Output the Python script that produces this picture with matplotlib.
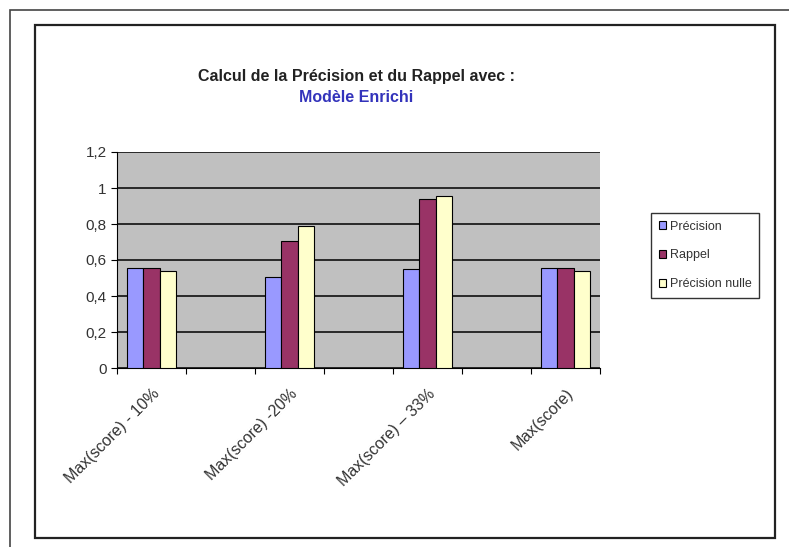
import matplotlib.pyplot as plt
import numpy as np
from matplotlib.patches import Rectangle

plt.rcParams['font.family'] = ['Liberation Sans', 'DejaVu Sans']

# données
categories = ["Max(score) - 10%", "", "Max(score) -20%", "", "Max(score) \u2013 33%", "", "Max(score)"]
precision = [0.556, np.nan, 0.505, np.nan, 0.55, np.nan, 0.556]
rappel = [0.556, np.nan, 0.708, np.nan, 0.941, np.nan, 0.556]
precision_nulle = [0.538, np.nan, 0.79, np.nan, 0.954, np.nan, 0.538]
series = [("Précision", precision, "#9999ff"),
          ("Rappel", rappel, "#993366"),
          ("Précision nulle", precision_nulle, "#ffffcc")]

fig = plt.figure(figsize=(7.89, 5.47), dpi=100)

# cadres
fig.patches.append(Rectangle((10/789, -0.1), 1.2, 1 - 10/547 + 0.1, transform=fig.transFigure,
                             fill=False, edgecolor="#444444", linewidth=1.2))
fig.patches.append(Rectangle((35/789, 1 - 538/547), (775 - 35)/789, (538 - 25)/547,
                             transform=fig.transFigure, fill=False, edgecolor="#222222", linewidth=1.6))

ax = fig.add_axes([117/789, 1 - 368/547, (600 - 117)/789, (368 - 152)/547])
ax.set_facecolor("#c0c0c0")

x = np.arange(len(categories))
w = 0.232
for i, (name, vals, col) in enumerate(series):
    ax.bar(x + (i - 1) * w, vals, w, color=col, edgecolor="black", linewidth=0.8, label=name, zorder=3)

ax.set_xlim(-0.5, len(categories) - 0.5)
ax.set_ylim(0, 1.2)
yt = np.arange(0, 1.21, 0.2)
ax.set_yticks(yt)
ax.set_yticklabels(["0", "0,2", "0,4", "0,6", "0,8", "1", "1,2"], fontsize=11, color="#333333")
ax.yaxis.grid(True, color="black", linewidth=1.1, zorder=1)
ax.set_axisbelow(True)

ax.set_xticks(np.arange(-0.5, len(categories)), labels=[])
ax.set_xticks(x, minor=True)
ax.set_xticklabels(categories, minor=True, rotation=45, ha="right", rotation_mode="anchor",
                   fontsize=11.5, color="#333333")
ax.tick_params(axis="x", which="minor", length=0, pad=13)
ax.tick_params(axis="both", which="major", direction="out", length=4, color="black")

for s in ["top", "right"]:
    ax.spines[s].set_visible(False)
ax.spines["left"].set_color("black")
ax.spines["bottom"].set_color("black")

leg = ax.legend(loc="upper left", bbox_to_anchor=(651/789, 1 - 213/547), bbox_transform=fig.transFigure,
                fontsize=9, frameon=True, fancybox=False, edgecolor="black", handlelength=0.6,
                handleheight=0.6, handletextpad=0.3, labelspacing=1.35, borderpad=0.6,
                borderaxespad=0)
leg.get_frame().set_linewidth(1.0)
for t in leg.get_texts():
    t.set_color("#333333")

fig.text(356/789, 1 - 77/547, "Calcul de la Précision et du Rappel avec :", ha="center", va="center",
         fontsize=11.5, fontweight="bold", color="#222222")
fig.text(356/789, 1 - 97/547, "Modèle Enrichi", ha="center", va="center",
         fontsize=11.5, fontweight="bold", color="#3333bb")

fig.savefig("out.png", dpi=100)
